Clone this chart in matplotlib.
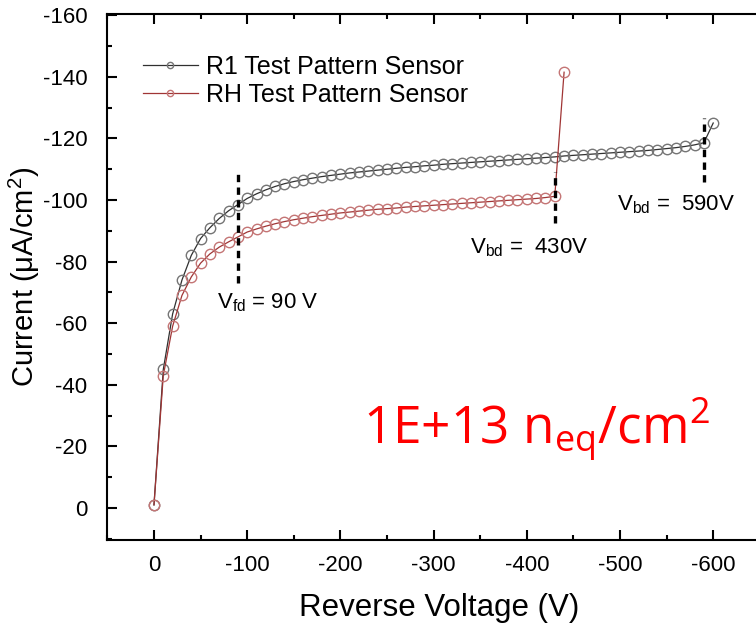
import numpy as np
import matplotlib.pyplot as plt
from matplotlib.ticker import MultipleLocator

plt.rcParams['font.family'] = ['Liberation Sans', 'DejaVu Sans']
plt.rcParams['axes.unicode_minus'] = False

# reverse voltage (V)
v_r1 = [0, -10, -20, -30, -40, -50, -60, -70, -80, -90, -100, -110, -120, -130, -140, -150,
        -160, -170, -180, -190, -200, -210, -220, -230, -240, -250, -260, -270, -280, -290,
        -300, -310, -320, -330, -340, -350, -360, -370, -380, -390, -400, -410, -420, -430,
        -440, -450, -460, -470, -480, -490, -500, -510, -520, -530, -540, -550, -560, -570,
        -580, -590, -600]
i_r1 = [-1, -45, -63, -74, -82, -87.5, -91, -94, -96.5, -98.5, -100.5, -102, -103.3, -104.4,
        -105.3, -106, -106.6, -107.1, -107.6, -108, -108.4, -108.8, -109.1, -109.4, -109.7,
        -110, -110.3, -110.6, -110.8, -111.1, -111.3, -111.6, -111.8, -112.0, -112.2, -112.4,
        -112.6, -112.8, -113.0, -113.2, -113.4, -113.6, -113.8, -114.0, -114.3, -114.5, -114.7,
        -114.9, -115.1, -115.3, -115.5, -115.7, -115.9, -116.1, -116.4, -116.7, -117.0, -117.4,
        -117.9, -118.6, -125]

v_rh = v_r1[:45]
i_rh = [-1, -43, -59, -69, -75, -79.5, -82.5, -84.7, -86.4, -88, -89.6, -90.6, -91.5, -92.3,
        -93, -93.6, -94.1, -94.6, -95, -95.4, -95.8, -96.1, -96.4, -96.7, -97, -97.2, -97.4,
        -97.7, -97.9, -98.1, -98.3, -98.5, -98.7, -98.9, -99.1, -99.3, -99.5, -99.7, -99.9,
        -100.1, -100.3, -100.5, -100.8, -101.2, -141.5]

# marker lines: (voltage, bottom, top)
vlines = [(-90, -73, -110), (-430, -92.5, -109), (-590, -106, -126.5)]

fig = plt.figure(figsize=(7.56, 6.23), dpi=100)
ax = fig.add_axes([107/756, 83/623, 664/756, 526/623])

ax.plot(v_r1, i_r1, '-', color='#303030', lw=0.9, marker='o', ms=7.5, mfc='none',
        mec='#757575', mew=1.0, label='R1 Test Pattern Sensor')
ax.plot(v_rh, i_rh, '-', color='#a03535', lw=0.9, marker='o', ms=7.5, mfc='none',
        mec='#c47575', mew=1.0, label='RH Test Pattern Sensor')

for x, y0, y1 in vlines:
    ax.plot([x, x], [y0, y1], '--', color='black', lw=2.4, dashes=(2.2, 1.6))

ax.text(-68, -66.5, r'V$_{\mathregular{fd}}$ = 90 V', fontsize=16, va='center')
ax.text(-339, -84.5, r'V$_{\mathregular{bd}}$ =  430V', fontsize=16, va='center')
ax.text(-497, -98.5, r'V$_{\mathregular{bd}}$ =  590V', fontsize=16, va='center')
ax.text(-224, -25.5, r'1E+13 n$_{\mathregular{eq}}$/cm$^{\mathregular{2}}$', fontsize=37,
        color='red', va='center', family=['Open Sans', 'DejaVu Sans'])

ax.set_xlim(50.4, -662)
ax.set_ylim(10.4, -160.4)
ax.xaxis.set_major_locator(MultipleLocator(100))
ax.xaxis.set_minor_locator(MultipleLocator(50))
ax.yaxis.set_major_locator(MultipleLocator(20))
ax.yaxis.set_minor_locator(MultipleLocator(10))
ax.tick_params(which='both', direction='in', top=True, right=False, width=1.5, labelsize=16)
ax.tick_params(which='major', length=7)
ax.tick_params(which='minor', length=3.5)
ax.tick_params(axis='x', pad=11)
ax.tick_params(axis='y', pad=14)
for s in ax.spines.values():
    s.set_linewidth(1.5)

ax.set_xlabel('Reverse Voltage (V)', fontsize=22.5, labelpad=12)
ax.set_ylabel(r'Current ($\mathregular{\mu}$A/cm$^{\mathregular{2}}$)', fontsize=21, labelpad=1)

ax.legend(loc='upper left', bbox_to_anchor=(0.02, 0.965), frameon=False, fontsize=18,
          handlelength=2.2, handletextpad=0.32, labelspacing=0.15, numpoints=1,
          markerscale=0.6)

plt.savefig('out.png', dpi=100)
